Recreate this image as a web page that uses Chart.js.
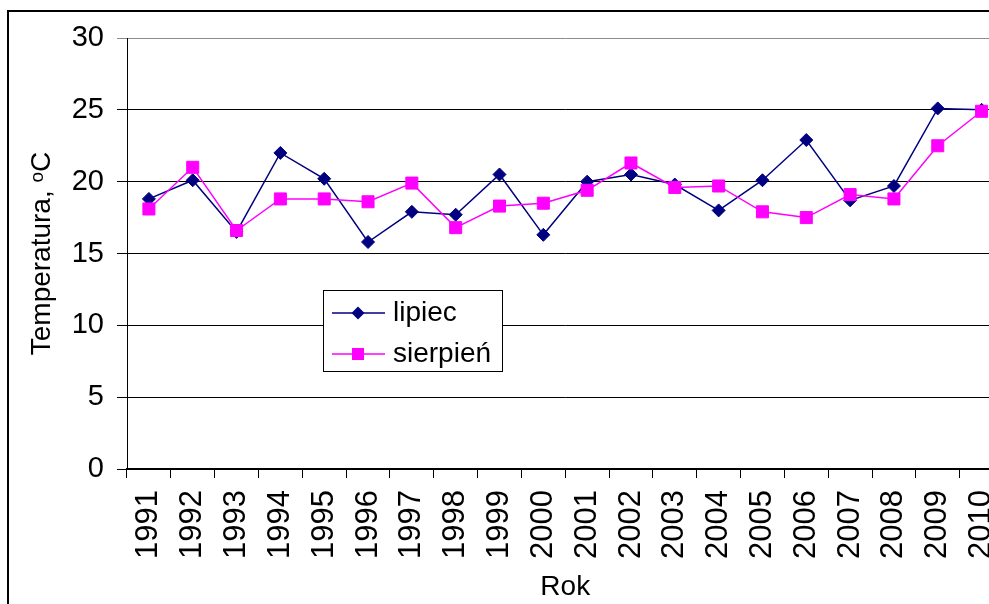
<!DOCTYPE html>
<html>
<head>
<meta charset="utf-8">
<title>Temperatura lipiec / sierpień 1991-2010</title>
<script src="https://cdn.jsdelivr.net/npm/chart.js@4.4.1/dist/chart.umd.min.js"></script>
<style>
  html, body { margin: 0; padding: 0; background: #fff; overflow: hidden; }
  #wrap { width: 1013px; height: 604px; }
</style>
</head>
<body>
<div id="wrap"><canvas id="temperatura" width="1013" height="604"></canvas></div>
<script>
var lata = ["1991", "1992", "1993", "1994", "1995", "1996", "1997", "1998", "1999", "2000",
            "2001", "2002", "2003", "2004", "2005", "2006", "2007", "2008", "2009", "2010"];

var lipiec = [18.8, 20.1, 16.5, 22.0, 20.2, 15.8, 17.9, 17.7, 20.5, 16.3,
              20.0, 20.5, 19.8, 18.0, 20.1, 22.9, 18.7, 19.7, 25.1, 25.0];

var sierpien = [18.1, 21.0, 16.6, 18.8, 18.8, 18.6, 19.9, 16.8, 18.3, 18.5,
                19.4, 21.3, 19.6, 19.7, 17.9, 17.5, 19.1, 18.8, 22.5, 24.9];

var skalaY = { min: 0, max: 30, krok: 5 };

Chart.defaults.font.family = "'Liberation Sans', Arial, sans-serif";
Chart.defaults.color = "#000";

// ramka wokol calego wykresu
var ramka = {
    id: "ramka",
    afterDraw: function (chart) {
        var ctx = chart.ctx;
        ctx.save();
        ctx.strokeStyle = "#000";
        ctx.lineWidth = 2;
        ctx.strokeRect(8, 11, chart.width + 20, chart.height + 20);
        ctx.restore();
    },
};

// legenda wewnatrz obszaru wykresu
var legendaWewnatrz = {
    id: "legendaWewnatrz",
    afterDatasetsDraw: function (chart, args, opts) {
        var ctx = chart.ctx;
        var area = chart.chartArea;
        var x = area.left + opts.left;
        var y = area.top + opts.top;
        ctx.save();
        ctx.fillStyle = "#fff";
        ctx.fillRect(x, y, opts.width, opts.height);
        ctx.strokeStyle = "#000";
        ctx.lineWidth = 1;
        ctx.strokeRect(x + 0.5, y + 0.5, opts.width, opts.height);

        var wiersze = [0, 1];
        wiersze.forEach(function (i) {
            var ds = chart.data.datasets[i];
            var ry = y + opts.rows[i];
            ctx.strokeStyle = ds.borderColor;
            ctx.lineWidth = 1.5;
            ctx.beginPath();
            ctx.moveTo(x + 9, ry);
            ctx.lineTo(x + 62, ry);
            ctx.stroke();
            ctx.fillStyle = ds.backgroundColor;
            Chart.helpers.drawPoint(ctx, {
                pointStyle: ds.pointStyle,
                radius: ds.pointRadius,
                borderWidth: 0,
            }, x + 35, ry);
            ctx.fillStyle = "#000";
            ctx.font = "28px 'Liberation Sans', Arial, sans-serif";
            ctx.textBaseline = "middle";
            ctx.fillText(ds.label, x + 70, ry);
        });
        ctx.restore();
    },
};

var ctxTemp = document.getElementById("temperatura").getContext("2d");

var wykres = new Chart(ctxTemp, {
    type: "line",
    data: {
        labels: lata,
        datasets: [
            {
                label: "lipiec",
                data: lipiec,
                borderColor: "#000080",
                backgroundColor: "#000080",
                borderWidth: 1.5,
                pointStyle: "rectRot",
                pointRadius: 6.5,
                pointBorderWidth: 1,
                tension: 0,
                order: 2,
            },
            {
                label: "sierpień",
                data: sierpien,
                borderColor: "#ff00ff",
                backgroundColor: "#ff00ff",
                borderWidth: 1.5,
                pointStyle: "rect",
                pointRadius: 8.5,
                pointBorderWidth: 1,
                tension: 0,
                order: 1,
            },
        ],
    },
    options: {
        responsive: false,
        animation: false,
        layout: {
            padding: { left: 0, top: 38, right: 0, bottom: 0 },
        },
        plugins: {
            legend: { display: false },
            tooltip: { enabled: false },
            legendaWewnatrz: { left: 196, top: 252, width: 179, height: 81, rows: [23, 64] },
        },
        scales: {
            x: {
                offset: true,
                grid: {
                    drawOnChartArea: false,
                    offset: true,
                    tickLength: 9,
                    color: "#000",
                },
                border: { color: "#000", width: 2 },
                ticks: {
                    minRotation: 90,
                    maxRotation: 90,
                    autoSkip: false,
                    padding: 12,
                    font: { size: 31 },
                },
                title: {
                    display: true,
                    text: "Rok",
                    font: { size: 28 },
                    padding: 0,
                },
                afterFit: function (scale) {
                    scale.height = 135;
                    scale.paddingRight = 0;
                },
            },
            y: {
                min: skalaY.min,
                max: skalaY.max,
                ticks: {
                    stepSize: skalaY.krok,
                    padding: 13,
                    font: { size: 29 },
                },
                grid: {
                    color: function (c) {
                        return c.tick && c.tick.value === skalaY.max ? "#8c8c8c" : "#000";
                    },
                    tickLength: 10,
                    lineWidth: 1,
                },
                border: { color: "#000", width: 1 },
                title: {
                    display: true,
                    text: "Temperatura, \u1D52C",
                    font: { size: 28 },
                    padding: { top: 25, bottom: 0 },
                },
                afterFit: function (scale) {
                    scale.width = 127;
                },
            },
        },
    },
    plugins: [ramka, legendaWewnatrz],
});
</script>
</body>
</html>
